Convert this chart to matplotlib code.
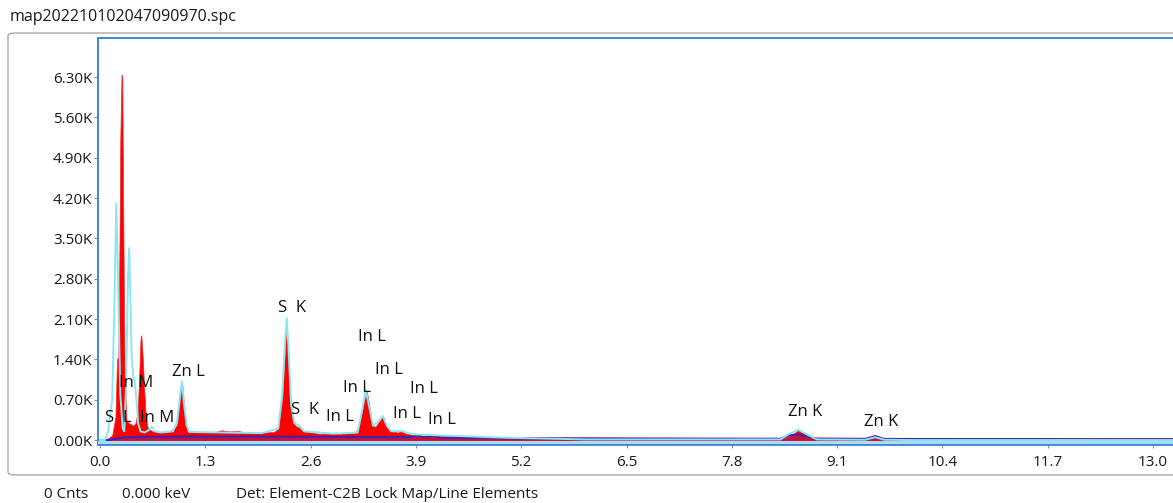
import matplotlib
matplotlib.use('Agg')
import matplotlib.pyplot as plt
from matplotlib.patches import FancyBboxPatch

plt.rcParams['font.family'] = ['Open Sans', 'DejaVu Sans']

red_kev = [0.0, 0.05, 0.10, 0.15, 0.19, 0.21, 0.225, 0.235, 0.25, 0.265, 0.275, 0.285,
           0.295, 0.305, 0.315, 0.325, 0.35, 0.38, 0.41, 0.44, 0.465, 0.48, 0.50, 0.51,
           0.525, 0.545, 0.565, 0.59, 0.65, 0.75, 0.85, 0.90, 0.95, 0.98, 1.00, 1.015,
           1.035, 1.06, 1.09, 1.2, 1.4, 1.5, 1.6, 1.7, 1.8, 2.0, 2.15, 2.2, 2.25, 2.28,
           2.30, 2.32, 2.35, 2.38, 2.43, 2.47, 2.52, 2.7, 2.85, 2.91, 2.97, 3.15, 3.2,
           3.25, 3.29, 3.32, 3.36, 3.40, 3.45, 3.49, 3.52, 3.57, 3.68, 3.72, 3.78, 4.0,
           4.5, 5.0, 6.0, 7.0, 8.0, 8.45, 8.55, 8.62, 8.7, 8.8, 9.5, 10.0, 13.5]
red_cnts = [0, 0, 30, 80, 400, 1400, 1450, 2500, 5200, 6350, 6300, 4200,
            2500, 1000, 800, 350, 300, 280, 250, 300, 500, 1000, 1750, 1820,
            1500, 900, 400, 200, 150, 140, 150, 190, 260, 600, 920, 960,
            650, 300, 160, 140, 130, 170, 150, 160, 130, 130, 140, 200, 700, 1500,
            2030, 1600, 700, 300, 230, 220, 150, 110, 110, 130, 110, 120, 250,
            600, 860, 650, 250, 230, 330, 400, 300, 160, 130, 150, 110, 70,
            60, 50, 45, 42, 40, 40, 100, 170, 110, 45, 40, 38, 35]

# fitted spectrum (cyan line)
fit_kev = [0.0, 0.06, 0.10, 0.15, 0.18, 0.20, 0.22, 0.25, 0.28, 0.30, 0.32, 0.345,
           0.36, 0.375, 0.39, 0.41, 0.43, 0.45, 0.47, 0.50, 0.55, 0.60, 0.64, 0.68,
           0.75, 0.90, 0.95, 0.99, 1.012, 1.035, 1.07, 1.10, 2.0, 2.2, 2.25, 2.285,
           2.305, 2.33, 2.36, 2.40, 2.46, 2.52, 2.9, 3.18, 3.24, 3.28, 3.32, 3.37,
           3.44, 3.49, 3.54, 3.6, 3.72, 3.85, 4.2, 5.0, 6.0, 8.4, 8.5, 8.62, 8.75,
           8.85, 9.45, 9.57, 9.68, 10.0, 13.5]
fit_cnts = [0, 0, 150, 700, 2500, 4100, 3000, 800, 200, 150, 900, 2800,
            3330, 2500, 1500, 1100, 1000, 700, 300, 150, 130, 170, 230, 150,
            130, 150, 300, 800, 1020, 650, 250, 140, 120, 200, 800, 1700,
            2120, 1500, 600, 300, 240, 150, 110, 130, 550, 870, 600, 250,
            330, 420, 250, 150, 160, 100, 80, 40, 10, 10, 100, 180, 80,
            10, 5, 50, 5, 0, 0]

# background / line-element overlay (dark blue)
bg_kev = [0.0, 0.10, 0.20, 0.30, 0.50, 1.0, 2.0, 3.0, 3.8, 3.92, 4.0, 4.13, 4.2,
          5.0, 7.0, 8.4, 8.5, 8.62, 8.75, 8.85, 9.45, 9.57, 9.68, 10.0, 13.5]
bg_cnts = [0, 0, 25, 45, 55, 60, 60, 55, 50, 85, 55, 75, 45,
           30, 25, 22, 80, 100, 60, 22, 20, 70, 20, 18, 12]

# peak labels
lbl_text = ['S  L', 'In M', 'In M', 'Zn L', 'S  K', 'S  K', 'In L', 'In L', 'In L',
            'In L', 'In L', 'In L', 'In L', 'Zn K', 'Zn K']
lbl_kev = [0.22, 0.44, 0.70, 1.09, 2.37, 2.53, 2.96, 3.36, 3.17, 3.57, 3.79, 4.00,
           4.22, 8.70, 9.65]
lbl_cnts = [380, 990, 380, 1180, 2290, 520, 400, 1790, 900, 1215, 450, 885,
            350, 490, 310]

x_ticks = [0.0, 1.3, 2.6, 3.9, 5.2, 6.5, 7.8, 9.1, 10.4, 11.7, 13.0]
y_ticks = [0, 700, 1400, 2100, 2800, 3500, 4200, 4900, 5600, 6300]

W, H = 1173, 503
fig = plt.figure(figsize=(W / 100, H / 100), dpi=100)

# outer panel frame
frame = FancyBboxPatch((8 / W, (H - 475) / H), 1.2, (475 - 33) / H,
                       boxstyle='round,pad=0,rounding_size=0.006',
                       transform=fig.transFigure, facecolor='white',
                       edgecolor='#a8a8a8', linewidth=1.0, zorder=0)
fig.patches.append(frame)

ax = fig.add_axes([98 / W, (H - 444) / H, (1182 - 98) / W, (444 - 38) / H])
ax.set_zorder(2)
ax.fill_between(red_kev, -45, red_cnts, color='#ff0000', linewidth=0.5,
                edgecolor='#e83030', zorder=2)
ax.fill_between(bg_kev, 0, bg_cnts, color='#5030c0', alpha=0.35, linewidth=0, zorder=3)
ax.plot(bg_kev, bg_cnts, color='#3a22b4', lw=1.4, zorder=3)
ax.plot(fit_kev, fit_cnts, color='#8ae6f2', lw=1.4, zorder=4)
ax.axhline(-30, color='#a6dcf4', lw=2.2, zorder=4)

for t, xk, yc in zip(lbl_text, lbl_kev, lbl_cnts):
    ax.text(xk, yc, t, ha='center', va='center', fontsize=12, color='#111111', zorder=5)

ax.set_xlim(-0.025, (1182 - 100) / 81)
ax.set_ylim(-69, 6979)
ax.set_xticks(x_ticks)
ax.set_xticklabels([f'{v:.1f}' for v in x_ticks])
ax.set_yticks(y_ticks)
ax.set_yticklabels([f'{v / 1000:.2f}K' for v in y_ticks])
ax.tick_params(axis='both', length=3, width=0.8, color='#909090',
               labelsize=11, labelcolor='#1a1a1a')
ax.tick_params(axis='x', pad=5)
ax.tick_params(axis='y', pad=1)
for s in ax.spines.values():
    s.set_color('#3a88d6')
    s.set_linewidth(1.4)
ax.spines['bottom'].set_linewidth(2.0)

fig.text(10 / W, 1 - 17 / H, 'map202210102047090970.spc', ha='left', va='center',
         fontsize=11.5, color='#1a1a1a')
fig.text(44 / W, 1 - 494 / H, '0 Cnts', ha='left', va='center', fontsize=11, color='#1a1a1a')
fig.text(122 / W, 1 - 494 / H, '0.000 keV', ha='left', va='center', fontsize=11, color='#1a1a1a')
fig.text(236 / W, 1 - 494 / H, 'Det: Element-C2B Lock Map/Line Elements', ha='left',
         va='center', fontsize=11, color='#1a1a1a')

fig.savefig('out.png', dpi=100)
